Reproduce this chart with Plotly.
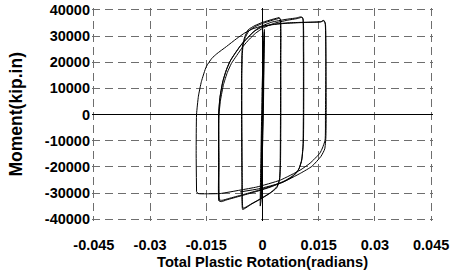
import plotly.graph_objects as go

# ---- tick definitions ----
x_tickvals = [-0.045, -0.03, -0.015, 0, 0.015, 0.03, 0.045]
x_ticktext = ["-0.045", "-0.03", "-0.015", "0", "0.015", "0.03", "0.045"]
y_tickvals = [-40000, -30000, -20000, -10000, 0, 10000, 20000, 30000, 40000]
y_ticktext = ["-40000", "-30000", "-20000", "-10000", "0", "10000", "20000", "30000", "40000"]

# ---- small (near-elastic) cycles ----
s1_x = [-0.0002, -0.0001, 0.0000, 0.0001, 0.0002, 0.0001, 0.0000, -0.0001, -0.0002]
s1_y = [-22000, -10000, 0, 11000, 22000, 10000, 0, -11000, -22000]
s2_x = [-0.0003, -0.0002, 0.0000, 0.0001, 0.0003, 0.0002, 0.0001, -0.0001, -0.0003]
s2_y = [-28000, -14000, 0, 14000, 28000, 14000, 0, -14000, -28000]
s3_x = [-0.0004, -0.0003, -0.0001, 0.0001, 0.0003, 0.0005, 0.0004, 0.0002, 0.0000, -0.0002, -0.0003, -0.0004]
s3_y = [-32000, -20000, -5000, 10000, 22000, 31500, 22000, 8000, -6000, -20000, -29000, -32000]
s4_x = [-0.0006, -0.0005, -0.0003, -0.0001, 0.0002, 0.0005, 0.0004, 0.0003, 0.0001, -0.0002, -0.0004, -0.0006]
s4_y = [-35000, -22000, -6000, 10000, 24000, 32500, 24000, 8000, -8000, -22000, -33000, -35000]

# ---- cycles at about +/-0.005 ----
a1_x = [-0.0053, -0.0055, -0.0056, -0.0056, -0.0055, -0.0053, -0.0047, -0.0038, -0.0020, 0.0000, 0.0025, 0.0040, 0.0044,
        0.0047, 0.0048, 0.0048, 0.0047, 0.0045, 0.0038, 0.0020, -0.0005, -0.0030, -0.0048, -0.0053]
a1_y = [-36300, -25000, 0, 15000, 23000, 26600, 29800, 32400, 34000, 35200, 36300, 36900, 37100,
        36500, 20000, 0, -20000, -25100, -28000, -30100, -32300, -34300, -36000, -36300]
a2_x = [-0.0052, -0.0054, -0.0055, -0.0055, -0.0054, -0.0052, -0.0046, -0.0036, -0.0018, 0.0002, 0.0026, 0.0041, 0.0045,
        0.0048, 0.0049, 0.0049, 0.0048, 0.0046, 0.0039, 0.0022, -0.0003, -0.0028, -0.0047, -0.0052]
a2_y = [-35800, -24000, 0, 15000, 22500, 26200, 29400, 32000, 33700, 34900, 36000, 36600, 36800,
        36300, 20000, 0, -19000, -24500, -27500, -29800, -32000, -34000, -35600, -35800]

# ---- cycles at about +/-0.011 ----
b1_x = [-0.0116, -0.0117, -0.0117, -0.0114, -0.0107, -0.0098, -0.0088, -0.0075, -0.0058, -0.0040, -0.0025, -0.0005, 0.0025, 0.0060, 0.0090, 0.0102,
        0.0107, 0.0109, 0.0109, 0.0108, 0.0104, 0.0095, 0.0080, 0.0055, 0.0020, -0.0020, -0.0060, -0.0095, -0.0110, -0.0116]
b1_y = [-33000, -20000, 0, 6000, 12000, 16500, 20000, 23000, 26500, 29200, 31500, 33600, 35300, 36300, 36900, 37300,
        37000, 25000, 0, -12000, -18000, -21500, -23800, -25800, -27800, -29600, -31200, -32600, -33300, -33000]
b2_x = [-0.0115, -0.0116, -0.0116, -0.0112, -0.0104, -0.0094, -0.0083, -0.0069, -0.0052, -0.0035, -0.0019, 0.0002, 0.0032, 0.0066, 0.0094, 0.0104,
        0.0108, 0.0110, 0.0110, 0.0109, 0.0105, 0.0097, 0.0083, 0.0060, 0.0026, -0.0014, -0.0054, -0.0090, -0.0108, -0.0115]
b2_y = [-32600, -19000, 0, 5500, 11500, 16000, 19500, 22500, 26000, 28800, 31000, 33100, 34900, 36000, 36700, 37100,
        36700, 24000, 0, -11000, -17000, -20800, -23200, -25300, -27300, -29100, -30700, -32100, -32800, -32600]

# ---- cycles at about +/-0.017 ----
c1_x = [-0.0116, -0.0117, -0.0117, -0.0113, -0.0105, -0.0095, -0.0084, -0.0070, -0.0053, -0.0036, -0.0020, 0.0000, 0.0030, 0.0065, 0.0100, 0.0135,
        0.0155, 0.0161, 0.0165, 0.0168, 0.0169, 0.0168, 0.0167, 0.0160, 0.0153, 0.0127, 0.0100, 0.0047, -0.0015, -0.0060, -0.0113, -0.0150,
        -0.0172, -0.0176]
c1_y = [-33000, -20000, 0, 7000, 13000, 17500, 21000, 24000, 27300, 29900, 32000, 33500, 34500, 35000, 35200, 35300,
        35400, 35800, 35700, 34500, 20000, 0, -9800, -12800, -14800, -18600, -21300, -25100, -27700, -28900, -30200, -30300,
        -30200, -29500]
c2_x = [-0.0176, -0.0177, -0.0176, -0.0171, -0.0163, -0.0150, -0.0135, -0.0122, -0.0096, -0.0069, -0.0047, -0.0025, 0.0000, 0.0050, 0.0100,
        0.0140, 0.0158, 0.0163, 0.0167, 0.0169, 0.0170, 0.0169, 0.0166, 0.0156, 0.0132, 0.0102, 0.0052, -0.0010, -0.0060]
c2_y = [-29500, -15000, 0, 7000, 12600, 18300, 21500, 23200, 26000, 29000, 31200, 32800, 33800, 34700, 35100,
        35300, 35500, 36000, 35000, 25000, 0, -9000, -13200, -16000, -19800, -22400, -26000, -28400, -29600]

loops = [(s1_x, s1_y), (s2_x, s2_y), (s3_x, s3_y), (s4_x, s4_y),
         (a1_x, a1_y), (a2_x, a2_y), (b1_x, b1_y), (b2_x, b2_y),
         (c1_x, c1_y), (c2_x, c2_y)]

fig = go.Figure()
for lx, ly in loops:
    fig.add_trace(go.Scatter(x=lx, y=ly, mode="lines",
                             line=dict(color="black", width=1.0, shape="spline", smoothing=0.5),
                             hoverinfo="skip"))

font_family = "Liberation Sans, Arial, sans-serif"
fig.update_layout(
    width=451, height=278,
    margin=dict(l=92, r=18, t=8, b=57, autoexpand=False),
    plot_bgcolor="white", paper_bgcolor="white",
    showlegend=False,
    font=dict(family=font_family, color="black"),
    annotations=[
        dict(text="Total Plastic Rotation(radians)", xref="paper", yref="paper", x=0.5, y=-0.191,
             xanchor="center", yanchor="middle", showarrow=False,
             font=dict(size=14.7, weight="bold", family=font_family, color="black")),
        dict(text="Moment(kip.in)", xref="paper", yref="paper", x=-0.223, y=0.5, textangle=-90,
             xanchor="center", yanchor="middle", showarrow=False,
             font=dict(size=17.5, weight="bold", family=font_family, color="black")),
    ],
)
fig.update_xaxes(
    range=[-0.0455, 0.0455],
    automargin=False,
    tickvals=x_tickvals, ticktext=x_ticktext,
    tickfont=dict(size=14.5, weight="bold", family=font_family),
    showgrid=True, gridcolor="#6e6e6e", gridwidth=1, griddash="8px,5px",
    zeroline=True, zerolinecolor="black", zerolinewidth=1,
    showline=False, ticks="",
    ticklabelstandoff=13, ticklabeloverflow="allow",
)
fig.update_yaxes(
    range=[-40700, 40700],
    automargin=False,
    tickvals=y_tickvals, ticktext=y_ticktext,
    tickfont=dict(size=14.5, weight="bold", family=font_family),
    showgrid=True, gridcolor="#6e6e6e", gridwidth=1, griddash="8px,5px",
    zeroline=True, zerolinecolor="black", zerolinewidth=1,
    showline=False, ticks="",
    ticklabelstandoff=1,
)

fig.write_html("out.html", config={"displayModeBar": False},
               post_script="document.body.style.margin='0px';")
